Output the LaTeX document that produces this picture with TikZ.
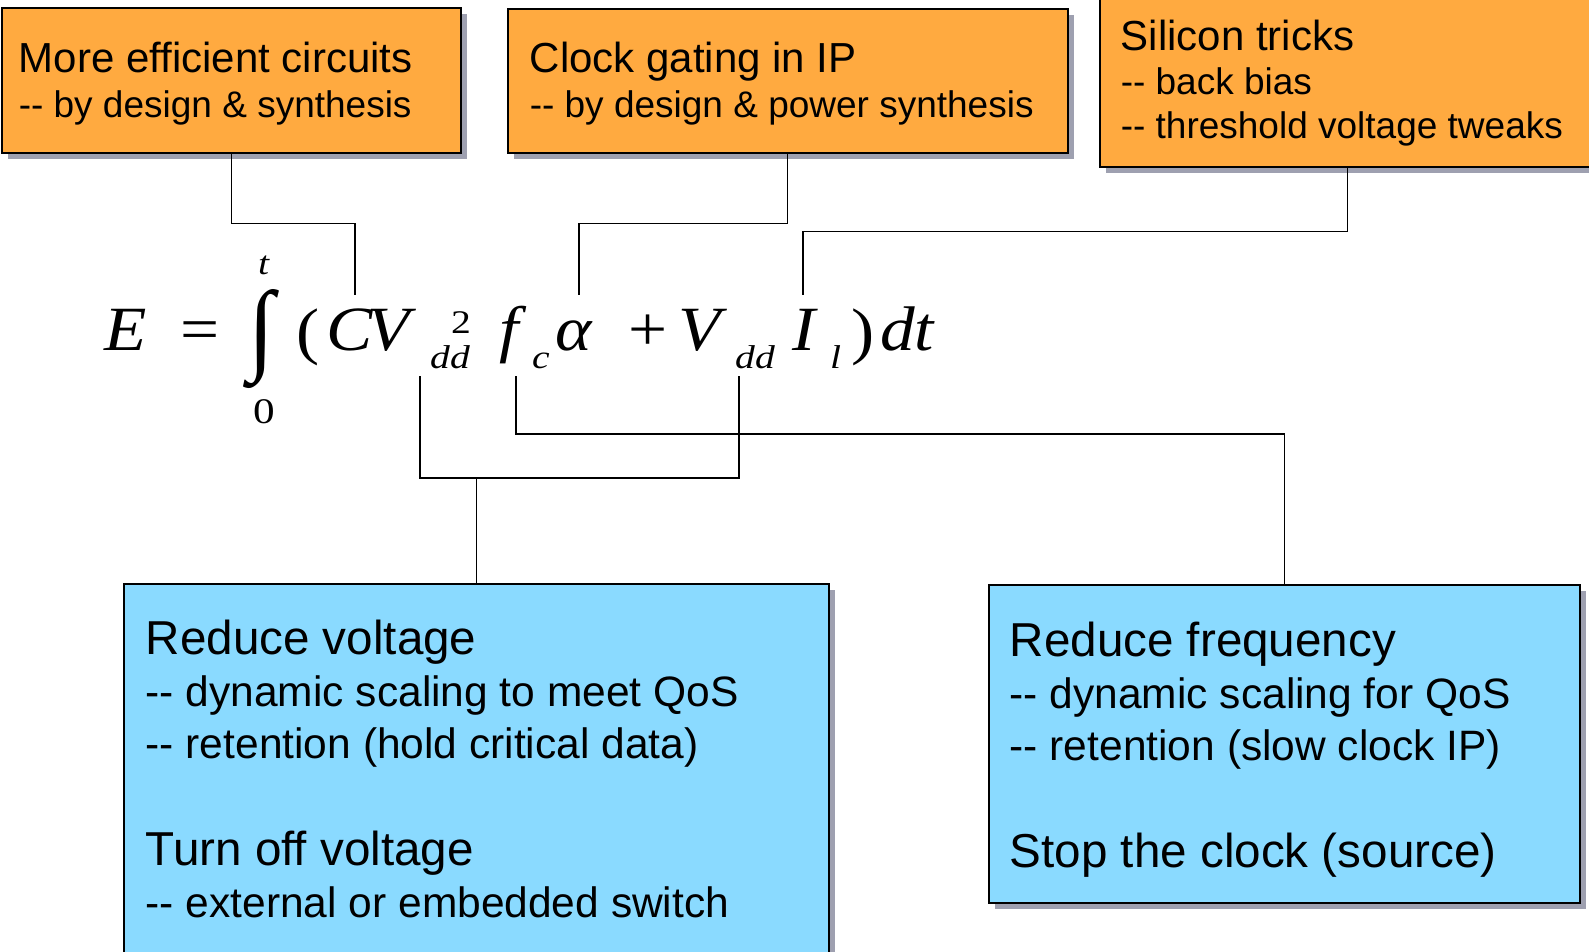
\documentclass[tikz,border=0pt]{standalone}
\usepackage{fontspec}
\setmainfont{Liberation Sans}
\newfontfamily\eqfont[FakeStretch=1.1]{Liberation Serif}
\newfontfamily\eqidxfont[FakeStretch=1.2]{Liberation Serif}
\usepackage{graphicx}
\usepackage{xcolor}
\usetikzlibrary{positioning, shadows}

\definecolor{boxorange}{HTML}{FFAA40}
\definecolor{boxblue}{HTML}{8ADAFF}
\definecolor{shadowgrey}{HTML}{9EA0B0}

\begin{document}
\begin{tikzpicture}[
    x=1pt, y=-1pt,
    box/.style={
        rectangle,
        draw,
        line width=1.5pt,
        anchor=north west,
        align=flush left,
        inner ysep=0pt,
        drop shadow={shadow xshift=6pt, shadow yshift=-6pt, fill=shadowgrey, opacity=1}
    },
    tipbox/.style={
        box,
        fill=boxorange,
        font=\fontsize{42}{45}\selectfont
    },
    fixbox/.style={
        box,
        fill=boxblue,
        font=\fontsize{47.6}{52}\selectfont
    },
    eqvar/.style={
        inner sep=0pt,
        anchor=base west,
        font=\eqfont\itshape\fontsize{63}{63}\selectfont
    },
    eqop/.style={
        inner sep=0pt,
        anchor=base west,
        font=\eqfont\fontsize{63}{63}\selectfont
    },
    eqidx/.style={
        inner sep=0pt,
        anchor=base west,
        font=\eqidxfont\itshape\fontsize{33}{33}\selectfont
    },
    wire/.style={
        line width=1.4pt
    }
]

\useasboundingbox (0,0) rectangle (1589,951);
\fill[white] (0,0) rectangle (1589,951);
\clip (0,0) rectangle (1589,951);

\node[tipbox, text width=425pt, inner xsep=17pt, text height=65pt, text depth=80pt] (effic) at (1,7)
{More efficient circuits\\
\fontsize{37}{45}\selectfont -{}- by design \& synthesis};

\node[tipbox, text width=516pt, inner xsep=22pt, text height=64pt, text depth=80pt] (gating) at (507,8)
{Clock gating in IP\\
\fontsize{37}{45}\selectfont -{}- by design \& power synthesis};

\node[tipbox, font=\fontsize{42}{44}\selectfont, text width=454pt, inner xsep=21pt, text height=70pt, text depth=116pt] (tricks) at (1099,-20)
{Silicon tricks\\
\fontsize{37}{44}\selectfont -{}- back bias\\
-{}- threshold voltage tweaks};

\node[fixbox, text width=661pt, inner xsep=22pt, text height=71pt, text depth=331pt] (volt) at (123,583)
{Reduce voltage\\
\fontsize{42.5}{52}\selectfont -{}- dynamic scaling to meet QoS\\
-{}- retention (hold critical data)\\[55pt]
\fontsize{47.6}{52}\selectfont Turn off voltage\\
\fontsize{42.5}{52}\selectfont -{}- external or embedded switch};

\node[fixbox, text width=549pt, inner xsep=21pt, text height=72pt, text depth=246pt] (freq) at (988,584)
{Reduce frequency\\
\fontsize{42.5}{52}\selectfont -{}- dynamic scaling for QoS\\
-{}- retention (slow clock IP)\\[55pt]
\fontsize{47.6}{52}\selectfont Stop the clock (source)};

\node[eqvar] (E) at (104,350) {E};
\node[eqop] (eq) at (180,350) {=};
\node[inner sep=0pt] (integral) at (261.5,339) {\resizebox{26pt}{72pt}{\eqfont ∫}};
\node[eqidx] (upper) at (258,274) {t};
\node[eqidx, font=\eqidxfont\fontsize{36}{36}\selectfont] (lower) at (253,423) {0};
\node[eqop] (lpar) at (296,352) {(};
\node[eqvar] (C) at (326,350) {C};
\node[eqvar] (Vsq) at (367,350) {V};
\node[eqidx, font=\eqidxfont\fontsize{33}{33}\selectfont] (sq) at (451,333) {2};
\node[eqidx] (ddsq) at (430,368) {dd};
\node[eqvar] (f) at (499,350) {f};
\node[eqidx] (c) at (532,368) {c};
\node[eqvar] (alpha) at (555,350) {α};
\node[eqop] (plus) at (628,350) {+};
\node[eqvar] (Vlk) at (678,350) {V};
\node[eqidx] (ddlk) at (735,368) {dd};
\node[eqvar] (I) at (792,350) {I};
\node[eqidx] (l) at (830,368) {l};
\node[eqop] (rpar) at (851,352) {)};
\node[eqvar] (dt) at (880,350) {dt};

\coordinate (tapC) at (355,295);
\coordinate (tapA) at (579,295);
\coordinate (tapI) at (803,295);
\coordinate (tapVsq) at (420,376);
\coordinate (tapF) at (516,376);
\coordinate (tapVlk) at (739,376);

\draw[wire] (effic.south) -- ++(0,70) -| (tapC);
\draw[wire] (gating.south) -- ++(0,70) -| (tapA);
\draw[wire] (tricks.south) -- ++(0,64) -| (tapI);
\draw[wire] (tapVsq) -- ++(0,102) -| (tapVlk);
\draw[wire] (volt.north) -- ++(0,-105);
\draw[wire] (tapF) -- ++(0,58) -| (freq.north);

\end{tikzpicture}
\end{document}
